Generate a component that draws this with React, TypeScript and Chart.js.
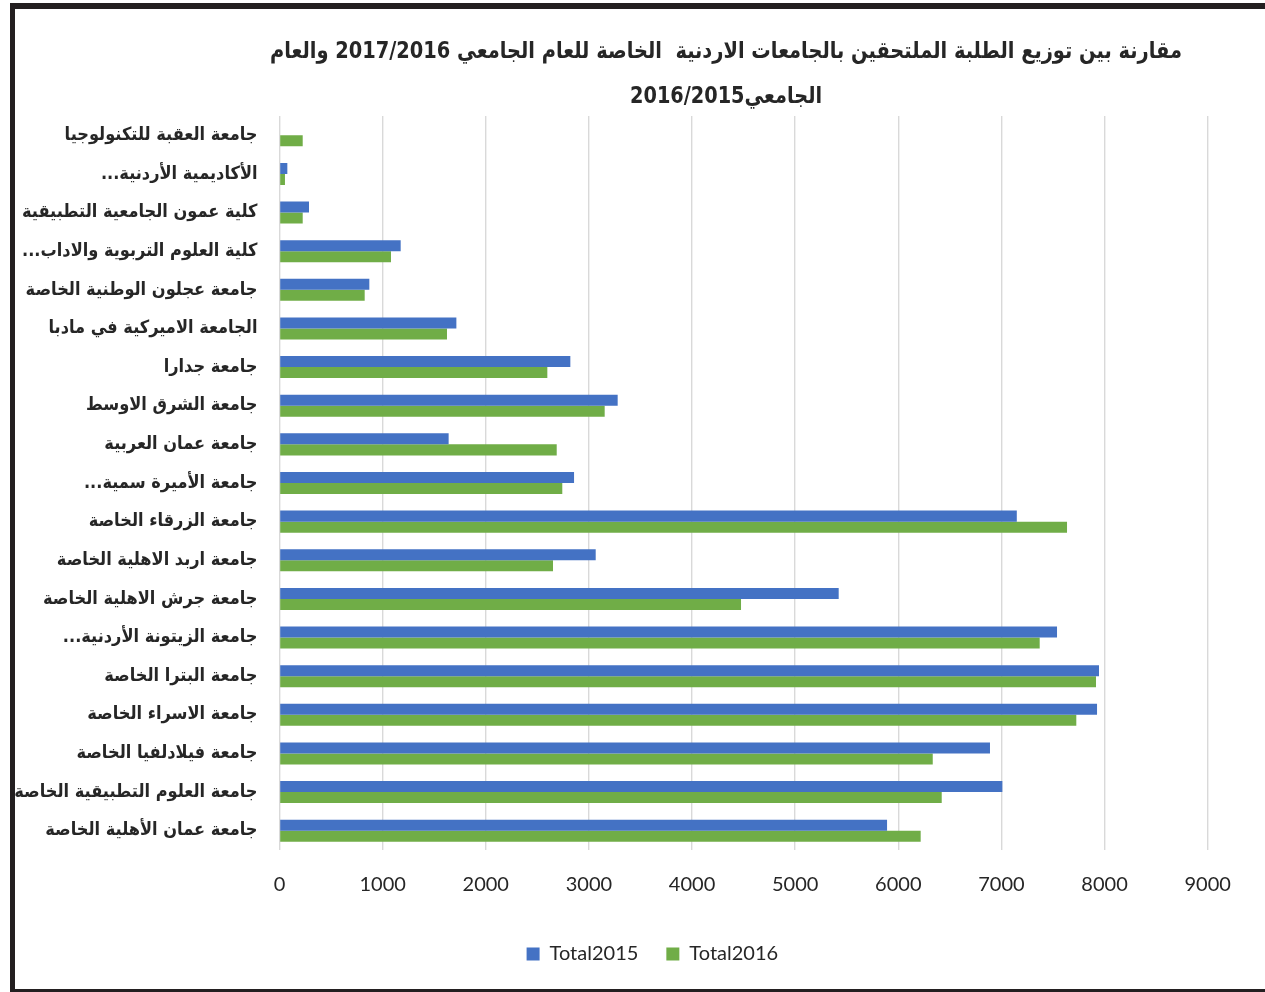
import React, { useEffect, useRef } from 'react';
import { Chart, registerables } from 'chart.js';

Chart.register(...registerables);

const categories: string[] = [
  'جامعة العقبة للتكنولوجيا',
  'الأكاديمية الأردنية...',
  'كلية عمون الجامعية التطبيقية',
  'كلية العلوم التربوية والاداب...',
  'جامعة عجلون الوطنية الخاصة',
  'الجامعة الاميركية في مادبا',
  'جامعة جدارا',
  'جامعة الشرق الاوسط',
  'جامعة عمان العربية',
  'جامعة الأميرة سمية...',
  'جامعة الزرقاء الخاصة',
  'جامعة اربد الاهلية الخاصة',
  'جامعة جرش الاهلية الخاصة',
  'جامعة الزيتونة الأردنية...',
  'جامعة البترا الخاصة',
  'جامعة الاسراء الخاصة',
  'جامعة فيلادلفيا الخاصة',
  'جامعة العلوم التطبيقية الخاصة',
  'جامعة عمان الأهلية الخاصة',
];

const total2015: number[] = [0, 76, 286, 1175, 871, 1715, 2820, 3279, 1640, 2856, 7149, 3066, 5422, 7539, 7946, 7927, 6889, 7009, 5891];
const total2016: number[] = [225, 53, 225, 1081, 826, 1624, 2597, 3153, 2688, 2742, 7636, 2652, 4475, 7371, 7917, 7726, 6334, 6421, 6217];

const seriesNames: string[] = ['Total2015', 'Total2016'];
const seriesColors: string[] = ['#4472C4', '#70AD47'];

const xTickValues: number[] = [0, 1000, 2000, 3000, 4000, 5000, 6000, 7000, 8000, 9000];

const titleLines: string[] = [
  'مقارنة بين توزيع الطلبة الملتحقين بالجامعات الاردنية  الخاصة للعام الجامعي 2017/2016 والعام',
  'الجامعي2016/2015',
];

const TEXT_COLOR = '#262626';
const CANVAS_W = 1276;
const CANVAS_H = 980;

const titlePlugin = {
  id: 'arabicTitle',
  afterDraw(chart: any) {
    const ctx = chart.ctx as CanvasRenderingContext2D;
    const maxWidths = [912, 192];
    ctx.save();
    ctx.fillStyle = TEXT_COLOR;
    ctx.font = 'bold 23px "DejaVu Sans"';
    ctx.textAlign = 'center';
    ctx.textBaseline = 'middle';
    titleLines.forEach((line, i) => {
      ctx.fillText(line, 711, 43 + i * 45, maxWidths[i]);
    });
    ctx.restore();
  },
};

const legendShiftPlugin = {
  id: 'legendShift',
  afterLayout(chart: any) {
    const lg = chart.legend;
    if (lg) {
      lg.left += 41;
      lg.right += 41;
    }
  },
};

export default function App() {
  const canvasRef = useRef<HTMLCanvasElement | null>(null);

  useEffect(() => {
    if (!canvasRef.current) return;
    const chart = new Chart(canvasRef.current, {
      type: 'bar',
      data: {
        labels: categories,
        datasets: [
          {
            label: seriesNames[0],
            data: total2015,
            backgroundColor: seriesColors[0],
            borderWidth: 0,
            categoryPercentage: 0.57,
            barPercentage: 1.0,
          },
          {
            label: seriesNames[1],
            data: total2016,
            backgroundColor: seriesColors[1],
            borderWidth: 0,
            categoryPercentage: 0.57,
            barPercentage: 1.0,
          },
        ],
      },
      options: {
        indexAxis: 'y',
        responsive: false,
        animation: false,
        layout: { padding: { left: 0, right: 83.3, top: 107, bottom: 15 } },
        scales: {
          x: {
            min: xTickValues[0],
            max: xTickValues[xTickValues.length - 1],
            afterBuildTicks: (scale: any) => {
              scale.ticks = xTickValues.map((v) => ({ value: v }));
            },
            afterFit: (scale: any) => {
              scale.height = 66;
            },
            grid: { color: '#d9d9d9', lineWidth: 1.4, drawTicks: false },
            border: { display: false },
            ticks: {
              padding: 23,
              color: TEXT_COLOR,
              font: { family: 'Lato', size: 20 },
              maxRotation: 0,
              callback: (v: any) => String(v),
            },
          },
          y: {
            afterFit: (scale: any) => {
              scale.width = 264.5;
            },
            grid: { display: false, drawTicks: false },
            border: { display: false },
            ticks: {
              autoSkip: false,
              padding: 22,
              color: TEXT_COLOR,
              font: { family: '"DejaVu Sans Condensed", "DejaVu Sans"', size: 18, weight: 'bold' },
            },
          },
        },
        plugins: {
          title: { display: false },
          tooltip: { enabled: false },
          legend: {
            position: 'bottom',
            labels: {
              boxWidth: 13,
              boxHeight: 13,
              padding: 28,
              color: TEXT_COLOR,
              font: { family: 'Lato', size: 20 },
            },
          },
        },
      },
      plugins: [titlePlugin, legendShiftPlugin],
    } as any);
    return () => chart.destroy();
  }, []);

  return (
    <div
      style={{
        position: 'absolute',
        left: 0,
        top: 0,
        width: 1265,
        height: 992,
        overflow: 'hidden',
        background: '#ffffff',
      }}
    >
      <canvas
        ref={canvasRef}
        width={CANVAS_W}
        height={CANVAS_H}
        style={{
          position: 'absolute',
          left: 15,
          top: 9,
          width: CANVAS_W,
          height: CANVAS_H,
          direction: 'rtl',
        }}
      />
      <div
        style={{
          position: 'absolute',
          left: 10,
          top: 3,
          width: 1300,
          height: 989,
          boxSizing: 'border-box',
          borderLeft: '5px solid #231f20',
          borderTop: '6px solid #231f20',
          borderBottom: '3px solid #231f20',
          pointerEvents: 'none',
        }}
      />
    </div>
  );
}
